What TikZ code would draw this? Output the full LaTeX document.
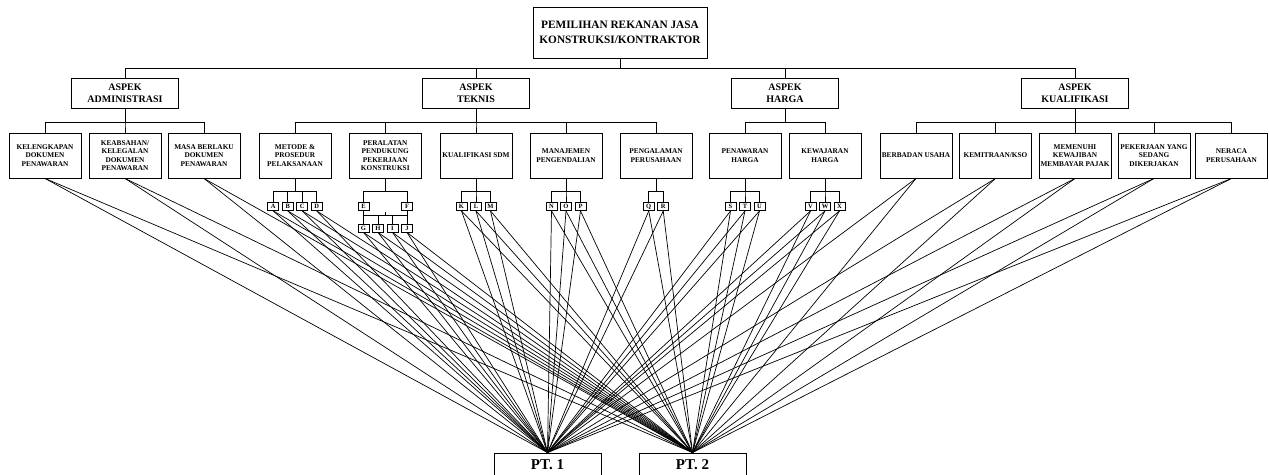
\documentclass[tikz,border=0pt]{standalone}
\usepackage{fontspec}
\setmainfont{Liberation Serif}
\begin{document}
\begin{tikzpicture}[x=1pt,y=-1pt,
  lw/.style={line width=0.9pt},
  topbox/.style={draw,lw,inner sep=0pt,align=center,minimum width=174pt,minimum height=51pt,font=\fontsize{11.3}{15}\selectfont\bfseries},
  aspbox/.style={draw,lw,inner sep=0pt,align=center,minimum width=107pt,minimum height=30pt,font=\fontsize{10}{12}\selectfont\bfseries},
  critbox/.style={draw,lw,inner sep=0pt,align=center,minimum width=72pt,minimum height=45pt,font=\fontsize{7.3}{8.3}\selectfont\bfseries},
  letbox/.style={draw,lw,inner sep=0pt,align=center,minimum width=11pt,minimum height=8pt,font=\fontsize{6.5}{7}\selectfont\bfseries},
  ptbox/.style={draw,lw,inner sep=0pt,align=center,minimum width=107pt,minimum height=24pt,font=\fontsize{15}{18}\selectfont\bfseries},
  conn/.style={lw,draw=black}]
\useasboundingbox (0,0) rectangle (1269,474);
\clip (0,0) rectangle (1269,474);

% top
\node[topbox] (top) at (620,32.5) {PEMILIHAN REKANAN JASA\\KONSTRUKSI/KONTRAKTOR};

% aspects
\node[aspbox] (a1) at (125,93) {ASPEK\\ADMINISTRASI};
\node[aspbox] (a2) at (476,93) {ASPEK\\TEKNIS};
\node[aspbox] (a3) at (785,93) {ASPEK\\HARGA};
\node[aspbox] (a4) at (1075,93) {ASPEK\\KUALIFIKASI};

% criteria
\node[critbox] (c1) at (45,155.5) {KELENGKAPAN\\DOKUMEN\\PENAWARAN};
\node[critbox] (c2) at (125,155.5) {KEABSAHAN/\\KELEGALAN\\DOKUMEN\\PENAWARAN};
\node[critbox] (c3) at (204,155.5) {MASA BERLAKU\\DOKUMEN\\PENAWARAN};
\node[critbox] (c4) at (295,155.5) {METODE \&\\PROSEDUR\\PELAKSANAAN};
\node[critbox] (c5) at (385.25,155.5) {PERALATAN\\PENDUKUNG\\PEKERJAAN\\KONSTRUKSI};
\node[critbox] (c6) at (476,155.5) {KUALIFIKASI SDM};
\node[critbox] (c7) at (566,155.5) {MANAJEMEN\\PENGENDALIAN};
\node[critbox] (c8) at (656,155.5) {PENGALAMAN\\PERUSAHAAN};
\node[critbox] (c9) at (745,155.5) {PENAWARAN\\HARGA};
\node[critbox] (c10) at (825,155.5) {KEWAJARAN\\HARGA};
\node[critbox] (c11) at (916,155.5) {BERBADAN USAHA};
\node[critbox] (c12) at (995.5,155.5) {KEMITRAAN/KSO};
\node[critbox] (c13) at (1075,155.5) {MEMENUHI\\KEWAJIBAN\\MEMBAYAR PAJAK};
\node[critbox] (c14) at (1154,155.5) {PEKERJAAN YANG\\SEDANG\\DIKERJAKAN};
\node[critbox] (c15) at (1231.5,155.5) {NERACA\\PERUSAHAAN};

% letters
\node[letbox] (lA) at (273.25,206.5) {A};
\node[letbox] (lB) at (287.75,206.5) {B};
\node[letbox] (lC) at (302.25,206.5) {C};
\node[letbox] (lD) at (316.75,206.5) {D};
\node[letbox] (lE) at (363.5,206.5) {E};
\node[letbox] (lF) at (407,206.5) {F};
\node[letbox] (lG) at (363.5,228) {G};
\node[letbox] (lH) at (378,228) {H};
\node[letbox] (lI) at (392.5,228) {I};
\node[letbox] (lJ) at (407,228) {J};
\node[letbox] (lK) at (461.5,206.5) {K};
\node[letbox] (lL) at (476,206.5) {L};
\node[letbox] (lM) at (490.5,206.5) {M};
\node[letbox] (lN) at (551.5,206.5) {N};
\node[letbox] (lO) at (566,206.5) {O};
\node[letbox] (lP) at (580.5,206.5) {P};
\node[letbox] (lQ) at (648.75,206.5) {Q};
\node[letbox] (lR) at (663.25,206.5) {R};
\node[letbox] (lS) at (730.5,206.5) {S};
\node[letbox] (lT) at (745,206.5) {T};
\node[letbox] (lU) at (759.5,206.5) {U};
\node[letbox] (lV) at (810.5,206.5) {V};
\node[letbox] (lW) at (825,206.5) {W};
\node[letbox] (lX) at (839.5,206.5) {X};

% PT boxes
\node[ptbox] (p1) at (547.5,465) {PT. 1};
\node[ptbox] (p2) at (692.5,465) {PT. 2};

% tree connectors
\foreach \a in {a1,a2,a3,a4}
  \draw[conn] (top.south) -- ++(0,10) -| (\a.north);
\foreach \c in {c1,c2,c3}
  \draw[conn] (a1.south) -- ++(0,14) -| (\c.north);
\foreach \c in {c4,c5,c6,c7,c8}
  \draw[conn] (a2.south) -- ++(0,14) -| (\c.north);
\foreach \c in {c9,c10}
  \draw[conn] (a3.south) -- ++(0,14) -| (\c.north);
\foreach \c in {c11,c12,c13,c14,c15}
  \draw[conn] (a4.south) -- ++(0,14) -| (\c.north);

\foreach \l in {lA,lB,lC,lD}
  \draw[conn] (c4.south) -- ++(0,13) -| (\l.north);
\foreach \l in {lE,lF}
  \draw[conn] (c5.south) -- ++(0,13) -| (\l.north);
\foreach \l in {lK,lL,lM}
  \draw[conn] (c6.south) -- ++(0,13) -| (\l.north);
\foreach \l in {lN,lO,lP}
  \draw[conn] (c7.south) -- ++(0,13) -| (\l.north);
\foreach \l in {lQ,lR}
  \draw[conn] (c8.south) -- ++(0,13) -| (\l.north);
\foreach \l in {lS,lT,lU}
  \draw[conn] (c9.south) -- ++(0,13) -| (\l.north);
\foreach \l in {lV,lW,lX}
  \draw[conn] (c10.south) -- ++(0,13) -| (\l.north);

% E/F to G..J
\coordinate (gbar) at (385.25,215.5);
\draw[conn] (lE.south) -- (lG.north);
\draw[conn] (lF.south) -- (lJ.north);
\draw[conn] (lG.north |- gbar) -- (lJ.north |- gbar);
\draw[conn] (lH.north |- gbar) -- (lH.north);
\draw[conn] (lI.north |- gbar) -- (lI.north);
\draw[conn] (gbar) -- ++(0,-3.5);

% links to PT boxes
\foreach \n in {c1,c2,c3,lA,lB,lC,lD,lG,lH,lI,lJ,lK,lL,lM,lN,lO,lP,lQ,lR,lS,lT,lU,lV,lW,lX,c11,c12,c13,c14,c15}{
  \draw[conn,line width=0.7pt] (\n.south) -- (p1.north);
  \draw[conn,line width=0.7pt] (\n.south) -- (p2.north);
}
\end{tikzpicture}
\end{document}
